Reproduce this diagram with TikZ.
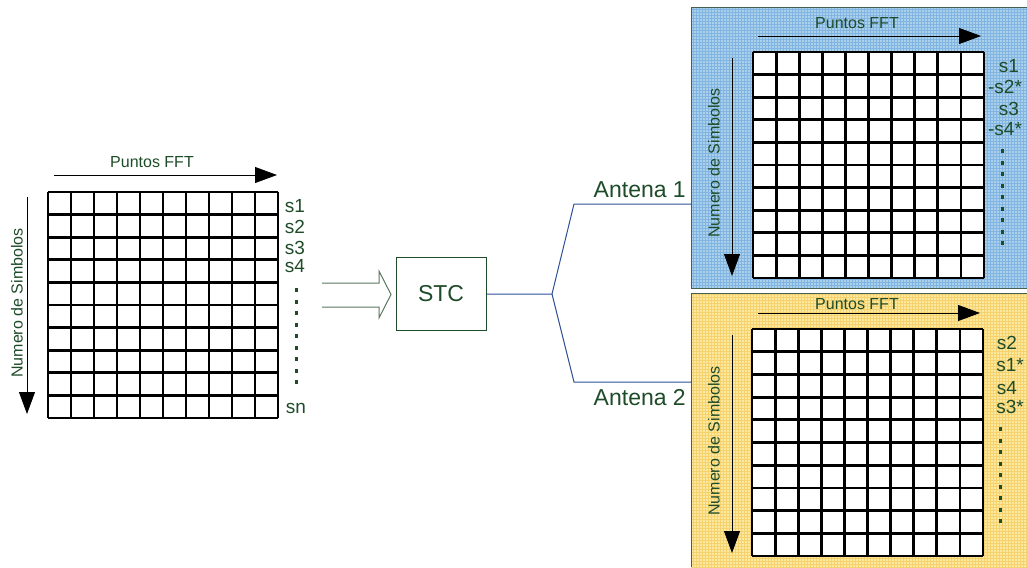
\documentclass[tikz,border=0pt]{standalone}
\usepackage{fontspec}
\setmainfont{Liberation Sans}
\usetikzlibrary{arrows.meta}
\definecolor{txtgreen}{RGB}{30,75,40}
\definecolor{linkblue}{RGB}{45,80,150}
\definecolor{panelblue}{RGB}{170,208,236}
\definecolor{gridblue}{RGB}{130,180,225}
\definecolor{panelyellow}{RGB}{252,232,158}
\definecolor{gridyellow}{RGB}{245,210,110}
\definecolor{panelborder}{RGB}{70,95,80}
\definecolor{hollowarrow}{RGB}{90,120,95}
\tikzset{
  cellgrid/.style={line width=2.8pt, black},
  bigarrow/.style={-{Triangle[length=22pt,width=16pt]}, line width=0.8pt, black},
  fftlabel/.style={text=txtgreen, font=\fontsize{16}{16}\selectfont, inner sep=0pt},
  symlabel/.style={text=txtgreen, font=\fontsize{16}{16}\selectfont, inner sep=0pt, rotate=90},
  slabel/.style={text=txtgreen, font=\fontsize{19}{19}\selectfont, inner sep=0pt},
  dotcol/.style={txtgreen, line width=3pt, dash pattern=on 4pt off 7.5pt},
  antlabel/.style={text=txtgreen, font=\fontsize{23}{23}\selectfont, inner sep=0pt, anchor=east},
  link/.style={linkblue, line width=1pt}
}
\begin{document}
\begin{tikzpicture}[x=1pt,y=-1pt]
\useasboundingbox (0,0) rectangle (1027,567);
% ---------- panels ----------
\fill[panelblue] (691,8) rectangle (1027,288);
\begin{scope}
\clip (691,8) rectangle (1027,288);
\draw[gridblue, line width=0.9pt, step=3pt] (690,7) grid (1028,290);
\end{scope}
\draw[panelborder, line width=1pt] (1027,8) -- (691,8) -- (691,288) -- (1027,288);
\fill[panelyellow] (691,293) rectangle (1027,567);
\begin{scope}
\clip (691,293) rectangle (1027,567);
\draw[gridyellow, line width=0.9pt, step=3pt] (690,292) grid (1028,568);
\end{scope}
\draw[panelborder, line width=1pt] (1027,293) -- (691,293) -- (691,567);
% ---------- left matrix ----------
\fill[white] (48,192) rectangle (278,418);
\foreach \i in {0,...,10} {
  \draw[cellgrid] ({48+23*\i},192) -- ({48+23*\i},418);
  \draw[cellgrid] (48,{192+22.6*\i}) -- (278,{192+22.6*\i});
}
\node[fftlabel] (fft0) at (152,162) {Puntos FFT};
\coordinate (fa0) at (54,175);
\coordinate (fb0) at (277,175);
\draw[bigarrow] (fa0) -- (fb0);
\node[symlabel] (sym0) at (17,303) {Numero de Simbolos};
\coordinate (va0) at (27,197);
\coordinate (vb0) at (27,414);
\draw[bigarrow] (va0) -- (vb0);
\node[slabel] (l01) at (295,206) {s1};
\node[slabel] (l02) at (295,227) {s2};
\node[slabel] (l03) at (295,247.5) {s3};
\node[slabel] (l04) at (295,266.5) {s4};
\draw[dotcol] (296,288) -- (296,390);
\node[slabel] (l0n) at (296,408) {sn};
% ---------- hollow arrow ----------
\draw[hollowarrow, line width=1pt] (322,283) -- (379,283) -- (379,271) -- (391,294.5) -- (379,318) -- (379,307) -- (322,307);
% ---------- STC ----------
\node[draw=txtgreen, line width=1pt, minimum width=90pt, minimum height=73pt, inner sep=0pt,
      text=txtgreen, font=\fontsize{23}{23}\selectfont] (stc) at (441,293.5) {STC};
\coordinate (jn) at (552,294);
\coordinate (up) at (574,204);
\coordinate (dn) at (574,382);
\coordinate (upe) at (691,204);
\coordinate (dne) at (691,382);
\draw[link] (stc.east |- jn) -- (jn) -- (up) -- (upe);
\draw[link] (jn) -- (dn) -- (dne);
\node[antlabel] (ant1) at (686,190) {Antena 1};
\node[antlabel] (ant2) at (686,398) {Antena 2};
% ---------- antenna 1 matrix ----------
\fill[white] (753,52) rectangle (984,278);
\foreach \i in {0,...,10} {
  \draw[cellgrid] ({753+23.1*\i},52) -- ({753+23.1*\i},278);
  \draw[cellgrid] (753,{52+22.6*\i}) -- (984,{52+22.6*\i});
}
\node[fftlabel] (fft1) at (857,23) {Puntos FFT};
\coordinate (fa1) at (758,36);
\coordinate (fb1) at (981,36);
\draw[bigarrow] (fa1) -- (fb1);
\node[symlabel] (sym1) at (714,163) {Numero de Simbolos};
\coordinate (va1) at (732,58);
\coordinate (vb1) at (732,276);
\draw[bigarrow] (va1) -- (vb1);
\node[slabel] (l11) at (1009,66) {s1};
\node[slabel] (l12) at (1005,86.5) {-s2*};
\node[slabel] (l13) at (1009,109) {s3};
\node[slabel] (l14) at (1005,129) {-s4*};
\draw[dotcol] (1002,149) -- (1002,250);
% ---------- antenna 2 matrix ----------
\fill[white] (752,329) rectangle (983,556);
\foreach \i in {0,...,10} {
  \draw[cellgrid] ({752+23.1*\i},329) -- ({752+23.1*\i},556);
  \draw[cellgrid] (752,{329+22.7*\i}) -- (983,{329+22.7*\i});
}
\node[fftlabel] (fft2) at (857,304) {Puntos FFT};
\coordinate (fa2) at (758,313);
\coordinate (fb2) at (980,313);
\draw[bigarrow] (fa2) -- (fb2);
\node[symlabel] (sym2) at (714,441) {Numero de Simbolos};
\coordinate (va2) at (732,335);
\coordinate (vb2) at (732,553);
\draw[bigarrow] (va2) -- (vb2);
\node[slabel] (l21) at (1007,343) {s2};
\node[slabel] (l22) at (1010,365) {s1*};
\node[slabel] (l23) at (1007,388) {s4};
\node[slabel] (l24) at (1010,407) {s3*};
\draw[dotcol] (1000,427) -- (1000,526);
\end{tikzpicture}
\end{document}
